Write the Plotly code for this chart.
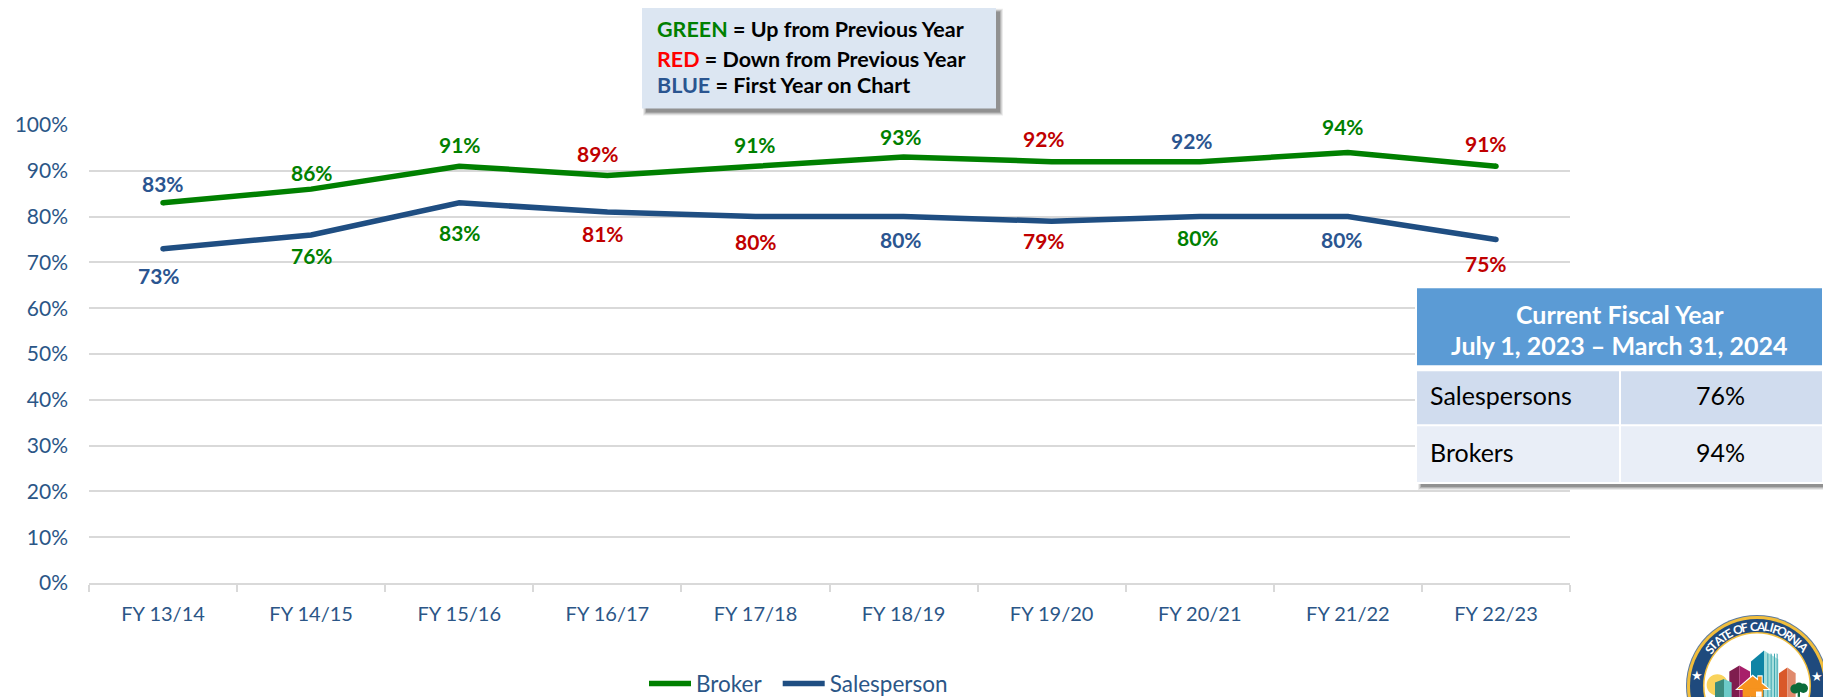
import math
import plotly.graph_objects as go

W, H = 1831, 697
L, R, T, B = 89, 1570, 124.5, 583
BODY = 8  # page margin around the plot

categories = ["FY 13/14", "FY 14/15", "FY 15/16", "FY 16/17", "FY 17/18",
              "FY 18/19", "FY 19/20", "FY 20/21", "FY 21/22", "FY 22/23"]
broker = [83, 86, 91, 89, 91, 93, 92, 92, 94, 91]
salesperson = [73, 76, 83, 81, 80, 80, 79, 80, 80, 75]
# label colour codes: g = up, r = down, b = first year / flat
broker_status = list("bggrggrbgr")
sales_status = list("bggrrbrgbr")
# label nudges (px)
broker_dx = [0, 1, 1, -9, 0, -3, -8, -8, -5, -10]
broker_dy = [19, 17, 22, 22, 22, 21, 23, 21, 26, 23]
sales_dx = [-4, 1, 1, -4, 1, -3, -8, -2, -6, -10]
sales_dy = [27, 21, 30, 21, 25, 23, 19, 21, 23, 24]

GREEN, NAVY, RED, LBL_BLUE = "#008000", "#1F4E82", "#C00000", "#2A5590"
TICK = "#2B5687"
GRID = "#D9D9D9"
FONT = "Lato"
STATUS = {"g": GREEN, "r": RED, "b": LBL_BLUE}


def px(x):
    return (x - L) / (R - L)


def py(y):
    return (B - y) / (B - T)


shapes, ann = [], []


def rect(x0, y0, x1, y1, fill, opacity=1):
    shapes.append(dict(type="rect", xref="paper", yref="paper", x0=px(x0), x1=px(x1),
                       y0=py(y1), y1=py(y0), fillcolor=fill, opacity=opacity,
                       line=dict(width=0), layer="above"))


def circle(cx, cy, r, fill):
    shapes.append(dict(type="circle", xref="paper", yref="paper", x0=px(cx - r), x1=px(cx + r),
                       y0=py(cy + r), y1=py(cy - r), fillcolor=fill,
                       line=dict(width=0), layer="above"))


def poly(points, fill):
    d = "M" + "L".join(f"{px(x):.5f},{py(y):.5f}" for x, y in points) + "Z"
    shapes.append(dict(type="path", xref="paper", yref="paper", path=d, fillcolor=fill,
                       line=dict(width=0), layer="above"))


def text(x, y, s, size, color, bold=False, anchor="center", angle=0):
    ann.append(dict(xref="paper", yref="paper", x=px(x), y=py(y), text=f"<b>{s}</b>" if bold else s,
                    showarrow=False, xanchor=anchor, yanchor="middle", textangle=angle,
                    font=dict(family=FONT, size=size, color=color)))


def shadow(x0, y0, x1, y1, off=4):
    for g, op in ((4, 0.10), (3, 0.14), (2, 0.2), (1, 0.3)):
        rect(x0 + off - g + 1, y0 + off - g + 1, x1 + off + g - 1, y1 + off + g - 1, "#404040", op)


# point labels
for names, vals, stat, dxs, dys, sign in (
    (categories, broker, broker_status, broker_dx, broker_dy, 1),
    (categories, salesperson, sales_status, sales_dx, sales_dy, -1),
):
    for c, v, s, dx, dy in zip(names, vals, stat, dxs, dys):
        ann.append(dict(xref="x", yref="y", x=c, y=v, text=f"<b>{v}%</b>", showarrow=False,
                        xshift=dx, yshift=sign * dy, xanchor="center", yanchor="middle",
                        font=dict(family=FONT, size=21, color=STATUS[s])))

# key box
shadow(642, 7, 996, 108)
rect(642, 7, 996, 108, "#DCE6F2")
for y, head, col, rest in ((28, "GREEN", GREEN, " = Up from Previous Year"),
                           (58, "RED", "#FF0000", " = Down from Previous Year"),
                           (84, "BLUE", LBL_BLUE, " = First Year on Chart")):
    text(655, y, f"<span style='color:{col}'>{head}</span>{rest}", 21.5, "#000000", True, "left")

# current fiscal year table
shadow(1417, 288, 1823, 483)
rect(1415, 286, 1824, 484, "#FFFFFF")
rect(1417, 288, 1822, 365, "#5B9BD5")
rect(1417, 371, 1619, 424, "#D0DCEE")
rect(1621, 371, 1822, 424, "#D0DCEE")
rect(1417, 426, 1619, 482, "#E9EEF7")
rect(1621, 426, 1822, 482, "#E9EEF7")
text(1619.5, 314, "Current Fiscal Year", 25, "#FFFFFF", True)
text(1619.5, 345, "July 1, 2023 \u2013 March 31, 2024", 25, "#FFFFFF", True)
text(1428, 395, "Salespersons", 25, "#000000", False, "left")
text(1720, 395, "76%", 25, "#000000")
text(1428, 452, "Brokers", 25, "#000000", False, "left")
text(1720, 452, "94%", 25, "#000000")

# seal
cx, cy = 1757, 686
circle(cx, cy, 71, "#5C7A9E")
circle(cx, cy, 70, "#F2BE3C")
circle(cx, cy, 67, "#1F4A7D")
circle(cx, cy, 54, "#F2BE3C")
circle(cx, cy, 52.5, "#FFFFFF")
zx = lambda v: 1680 + v / 3
zy = lambda v: 610 + v / 3
Z = lambda pts: [(zx(a), zy(b)) for a, b in pts]
BASE = 290
poly(Z([(213, BASE), (213, 155), (252, 122), (252, BASE)]), "#0E84A5")
poly(Z([(252, BASE), (252, 122), (295, 148), (295, BASE)]), "#A6DEDC")
for sx in (262, 272, 282, 290):
    poly(Z([(sx, BASE), (sx, 130), (sx + 3, 132), (sx + 3, BASE)]), "#3FA8B2")
poly(Z([(148, BASE), (148, 185), (178, 167), (178, BASE)]), "#7F1D4E")
poly(Z([(178, BASE), (178, 167), (210, 185), (210, BASE)]), "#A81F6A")
poly(Z([(297, BASE), (297, 190), (322, 173), (322, BASE)]), "#D9582A")
poly(Z([(322, BASE), (322, 173), (347, 190), (347, BASE)]), "#E08A6D")
circle(zx(112), zy(225), 32 / 3, "#F9D35C")
poly(Z([(105, BASE), (105, 218), (132, 207), (132, BASE)]), "#3B8C7E")
poly(Z([(132, BASE), (132, 207), (155, 218), (155, BASE)]), "#6CCBC8")
poly(Z([(165, 240), (218, 194), (232, 205), (232, 196), (248, 196), (248, 218), (273, 240)]), "#FFFFFF")
poly(Z([(172, 237), (218, 199), (234, 212), (234, 200), (245, 200), (245, 221), (266, 237)]), "#F7931E")
rect(zx(188), zy(235), zx(250), H, "#F7931E")
rect(zx(228), zy(245), zx(245), H, "#FFFFFF")
rect(zx(353), zy(240), zx(360), H, "#0B6B3A")
for a, b, r in ((345, 237, 14), (370, 235, 14), (357, 229, 11)):
    circle(zx(a), zy(b), r / 3, "#0B6B3A")
text(zx(52), zy(195), "\u2605", 13, "#FFFFFF")
text(zx(411), zy(198), "\u2605", 13, "#FFFFFF")
seal = "STATE OF CALIFORNIA"
seal_w = {"I": 0.45, " ": 0.45, "L": 0.72, "F": 0.72, "T": 0.8, "E": 0.75, "S": 0.8, "O": 1.1, "C": 1.0,
          "A": 1.0, "R": 0.9, "N": 1.05}
a0, a1 = -55, 53
total = sum(seal_w[c] for c in seal)
run = 0
for ch in seal:
    w = seal_w[ch]
    ang = a0 + (a1 - a0) * (run + w / 2) / total
    run += w
    if ch == " ":
        continue
    rad = math.radians(ang)
    text(cx + 60 * math.sin(rad), cy - 60 * math.cos(rad), ch, 12, "#FFFFFF", True, "center", ang)

fig = go.Figure()
for name, vals, col in (("Broker\u00a0\u00a0", broker, GREEN), ("Salesperson", salesperson, NAVY)):
    fig.add_trace(go.Scatter(x=categories, y=vals, name=name, mode="lines",
                             line=dict(color=col, width=5.5)))
    # rounded line ends
    fig.add_trace(go.Scatter(x=[categories[0], categories[-1]], y=[vals[0], vals[-1]], mode="markers",
                             marker=dict(color=col, size=5.5), showlegend=False))
fig.update_layout(
    width=W - BODY, height=H - BODY, autosize=False,
    margin=dict(l=L - BODY, r=W - R, t=T - BODY, b=H - B, pad=0, autoexpand=False),
    paper_bgcolor="#FFFFFF", plot_bgcolor="#FFFFFF",
    font=dict(family=FONT, size=18, color=TICK),
    shapes=shapes, annotations=ann,
    hovermode=False,
    legend=dict(orientation="h", x=px(644), y=py(684), xanchor="left", yanchor="middle",
                itemwidth=42,
                font=dict(family=FONT, size=22.5, color=TICK),
                bgcolor="rgba(0,0,0,0)"),
)
fig.update_xaxes(type="category", range=[-0.5, 9.5], tickson="boundaries", ticks="outside", ticklen=7, tickwidth=1.5,
                 tickcolor=GRID, showline=True, linecolor=GRID, linewidth=2, showgrid=False,
                 ticklabelstandoff=12, tickfont=dict(family=FONT, size=20, color=TICK))
fig.update_yaxes(range=[0, 100], dtick=10, ticksuffix="%", showgrid=True, gridcolor=GRID, gridwidth=1.5,
                 zeroline=False, showline=False, ticks="", ticklabelstandoff=20,
                 tickfont=dict(family=FONT, size=21, color=TICK))
fig.write_html("out.html")
